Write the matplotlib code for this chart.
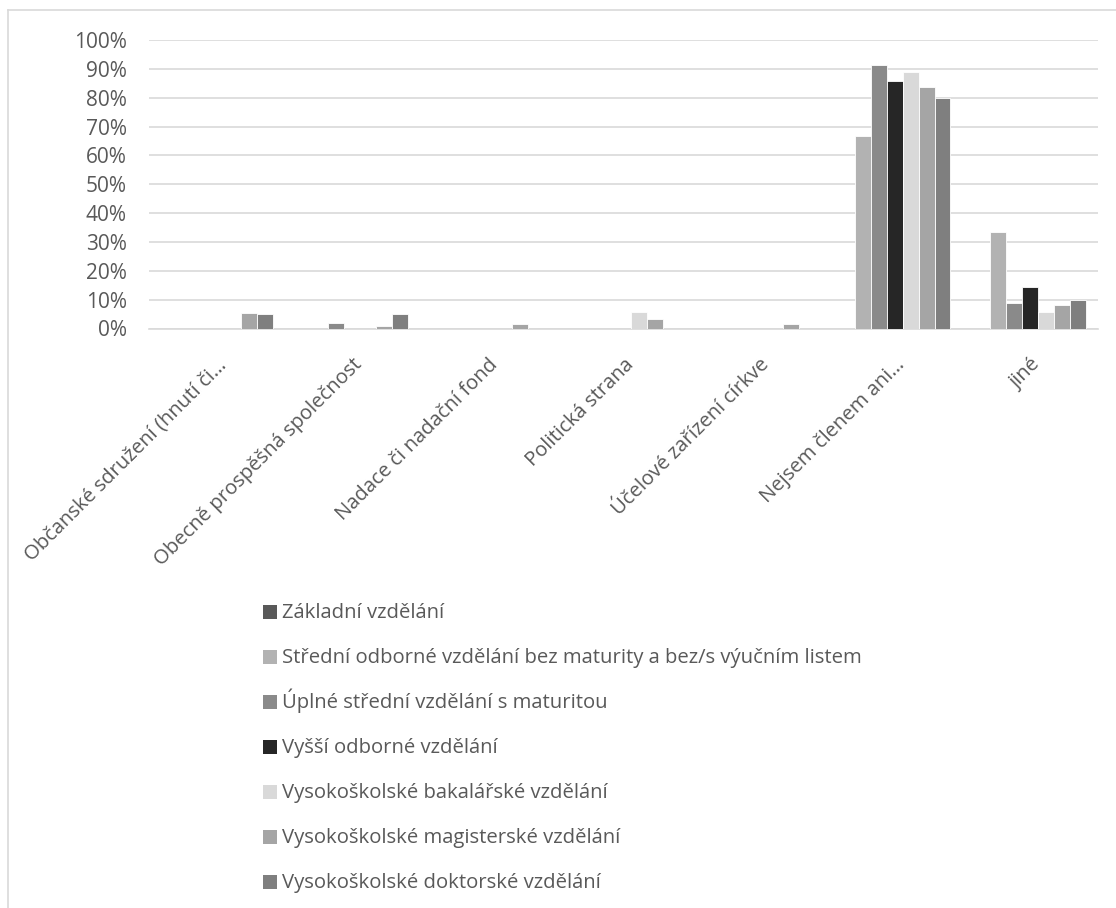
import numpy as np
import matplotlib
matplotlib.use("Agg")
import matplotlib.pyplot as plt
from matplotlib.lines import Line2D
from matplotlib.patches import Rectangle

plt.rcParams['font.family'] = ['Open Sans', 'DejaVu Sans']

categories = [
    "Občanské sdružení (hnutí či…",
    "Obecně prospěšná společnost",
    "Nadace či nadační fond",
    "Politická strana",
    "Účelové zařízení církve",
    "Nejsem členem ani…",
    "jiné",
]

series_names = [
    "Základní vzdělání",
    "Střední odborné vzdělání bez maturity a bez/s výučním listem",
    "Úplné střední vzdělání s maturitou",
    "Vyšší odborné vzdělání",
    "Vysokoškolské bakalářské vzdělání",
    "Vysokoškolské magisterské vzdělání",
    "Vysokoškolské doktorské vzdělání",
]

# values in %
zakladni = [0, 0, 0, 0, 0, 0, 0]
stredni = [0, 0, 0, 0, 0, 66.7, 33.3]
uplne = [0, 2.0, 0, 0, 0, 91.2, 8.8]
vyssi = [0, 0, 0, 0, 0, 85.7, 14.3]
bakalar = [0, 0, 0, 5.6, 0, 88.9, 5.6]
magistr = [5.3, 0.7, 1.6, 3.3, 1.6, 83.6, 8.0]
doktor = [5.0, 5.0, 0, 0, 0, 80.0, 10.0]

series = [zakladni, stredni, uplne, vyssi, bakalar, magistr, doktor]
colors = ["#595959", "#b2b2b2", "#8a8a8a", "#262626", "#d9d9d9", "#a5a5a5", "#7f7f7f"]

text_col = "#595959"
grid_col = "#d9d9d9"
W, H = 1116, 908

fig = plt.figure(figsize=(W / 100, H / 100), dpi=100)
ax = fig.add_axes([149/W, 1 - 328.5/H, (1098-149)/W, (328.5-40)/H])

x = np.arange(len(categories))
w = 1 / 8.5
for i, (vals, col) in enumerate(zip(series, colors)):
    ax.bar(x + (i - 3) * w, vals, width=w, color=col, edgecolor="white",
           linewidth=0.6, zorder=3)

ax.set_xlim(-0.5, len(categories) - 0.5)
ax.set_ylim(0, 100)
ax.set_yticks(np.arange(0, 101, 10))
ax.set_yticklabels([f"{v}%" for v in range(0, 101, 10)])
ax.yaxis.grid(True, color=grid_col, linewidth=1.2, zorder=0)
for s in ["top", "right", "left"]:
    ax.spines[s].set_visible(False)
ax.spines["bottom"].set_color(grid_col)
ax.spines["bottom"].set_linewidth(1.2)
ax.tick_params(axis="y", length=0, labelsize=15, colors=text_col, pad=16)
ax.tick_params(axis="x", length=0, labelsize=14.6, colors=text_col, pad=19)

ax.set_xticks(x)
ax.set_xticklabels(categories, rotation=45, ha="right", va="top",
                   rotation_mode="anchor")

# legend, one column under the chart
for i, (name, col) in enumerate(zip(series_names, colors)):
    yc = 612 + 45 * i
    fig.add_artist(Rectangle((263/W, 1 - (yc + 7)/H), 14/W, 14/H,
                             transform=fig.transFigure, facecolor=col,
                             edgecolor="none"))
    fig.text(282/W, 1 - (yc + 6)/H, name, fontsize=14.6, color=text_col,
             ha="left", va="baseline")

# chart frame (only top and left edges visible)
fig.add_artist(Line2D([8/W, 1], [1 - 10/H, 1 - 10/H],
                      color=grid_col, linewidth=1.2))
fig.add_artist(Line2D([8/W, 8/W], [0, 1 - 10/H],
                      color=grid_col, linewidth=1.2))

fig.savefig("out.png", dpi=100)
